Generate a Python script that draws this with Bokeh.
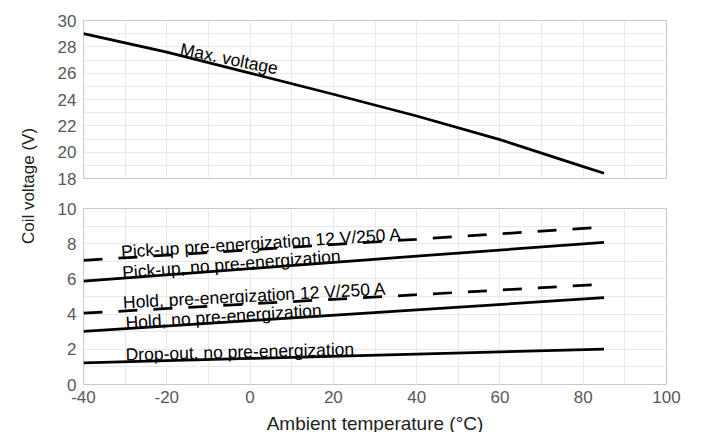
import numpy as np
from bokeh.plotting import figure
from bokeh.models import Range1d, SingleIntervalTicker, FixedTicker, Grid, ColumnDataSource
from bokeh.layouts import row, column
from bokeh.embed import file_html
from bokeh.resources import INLINE
from bokeh.core.properties import value

# ---------------- data ----------------
x_ticks = [-40, -20, 0, 20, 40, 60, 80, 100]
upper_y_ticks = [18, 20, 22, 24, 26, 28, 30]
lower_y_ticks = [0, 2, 4, 6, 8, 10]

temps_max = [-40, -20, 0, 20, 40, 60, 80, 85]
max_voltage = [29.0, 27.6, 26.0, 24.4, 22.75, 20.95, 18.9, 18.4]

temps_low = [-40, 0, 40, 85]
pickup_pre = [7.05, 7.65, 8.25, 8.95]
pickup_no = [5.88, 6.58, 7.29, 8.08]
hold_pre = [4.05, 4.58, 5.10, 5.70]
hold_no = [3.02, 3.63, 4.24, 4.93]
dropout = [1.23, 1.48, 1.73, 2.01]

upper_label = ["Max. voltage"]
upper_label_x = [-16.7]
upper_label_y = [27.85]
upper_label_angle = [-11.5]

lower_labels = ["Pick-up pre-energization 12 V/250 A", "Pick-up, no pre-energization",
                "Hold, pre-energization 12 V/250 A", "Hold, no pre-energization",
                "Drop-out, no pre-energization"]
lower_label_x = [-30.95, -30.7, -30.5, -29.9, -29.9]
lower_label_y = [7.54, 6.36, 4.66, 3.51, 1.7]
lower_label_angle = [3.6, 4.4, 3.0, 3.7, 1.4]

x_title = "Ambient temperature (°C)"
y_title = "Coil voltage (V)"

FONT = "Liberation Sans"
TICK_COLOR = "#595959"
GRID_COLOR = "#e9e9e9"
FRAME_COLOR = "#c8c8c8"
LABEL_SIZE = "17.5px"

xr = Range1d(-40, 100)


def make_fig(yr, yticks, frame_h, mb_top, mb_bottom, with_xaxis):
    p = figure(frame_width=583, frame_height=frame_h, x_range=xr, y_range=Range1d(*yr),
               output_backend="svg", toolbar_location=None,
               min_border_left=35, min_border_right=18, min_border_top=mb_top,
               min_border_bottom=mb_bottom,
               x_axis_location="below" if with_xaxis else None)
    for g in p.grid:
        g.visible = False
    p.add_layout(Grid(dimension=0, ticker=SingleIntervalTicker(interval=10),
                      grid_line_color=GRID_COLOR, grid_line_width=1), "center")
    p.add_layout(Grid(dimension=1, ticker=SingleIntervalTicker(interval=1),
                      grid_line_color=GRID_COLOR, grid_line_width=1), "center")
    p.outline_line_color = FRAME_COLOR
    p.outline_line_width = 1
    p.background_fill_color = "white"
    p.border_fill_color = "white"

    ya = p.yaxis[0]
    ya.ticker = FixedTicker(ticks=yticks)
    ya.major_label_overrides = {t: str(t) for t in yticks}
    ya.axis_line_color = None
    ya.major_tick_line_color = None
    ya.minor_tick_line_color = None
    ya.major_label_standoff = 1
    ya.major_label_text_font = FONT
    ya.major_label_text_font_size = "17px"
    ya.major_label_text_color = TICK_COLOR

    if with_xaxis:
        xa = p.xaxis[0]
        xa.ticker = FixedTicker(ticks=x_ticks)
        xa.major_label_overrides = {t: str(t) for t in x_ticks}
        xa.axis_line_color = None
        xa.major_tick_line_color = None
        xa.minor_tick_line_color = None
        xa.major_label_standoff = 0
        xa.major_label_text_font = FONT
        xa.major_label_text_font_size = "17px"
        xa.major_label_text_color = TICK_COLOR
        xa.axis_label = x_title
        xa.axis_label_standoff = 7
        xa.axis_label_text_font = FONT
        xa.axis_label_text_font_size = "19px"
        xa.axis_label_text_font_style = "normal"
        xa.axis_label_text_color = "#222222"
    return p


# ---------------- upper panel ----------------
pu = make_fig((18, 30), upper_y_ticks, 158, 20, 15, False)
pu.line(temps_max, max_voltage, line_color="black", line_width=2.75)
src_u = ColumnDataSource(dict(x=upper_label_x, y=upper_label_y, t=upper_label,
                              a=[np.deg2rad(v) for v in upper_label_angle]))
pu.text(x="x", y="y", text="t", angle="a", source=src_u, text_font=value(FONT),
        text_font_size=LABEL_SIZE, text_color="black", text_align="left",
        text_baseline="alphabetic")

# ---------------- lower panel ----------------
pl = make_fig((0, 10), lower_y_ticks, 176, 15, 0, True)
for vals, dash in [(pickup_pre, "19 16"), (pickup_no, "solid"), (hold_pre, "19 16"),
                   (hold_no, "solid"), (dropout, "solid")]:
    pl.line(temps_low, vals, line_color="black", line_width=2.75, line_dash=dash)
src_l = ColumnDataSource(dict(x=lower_label_x, y=lower_label_y, t=lower_labels,
                              a=[np.deg2rad(v) for v in lower_label_angle]))
pl.text(x="x", y="y", text="t", angle="a", source=src_l, text_font=value(FONT),
        text_font_size=LABEL_SIZE, text_color="black", text_align="left",
        text_baseline="alphabetic")

# ---------------- shared y title ----------------
H = 420
pt = figure(width=48, height=H, x_range=Range1d(0, 48), y_range=Range1d(0, H),
            output_backend="svg", toolbar_location=None, x_axis_location=None,
            y_axis_location=None, min_border=0, outline_line_color=None)
for g in pt.grid:
    g.visible = False
pt.text(x=[28], y=[H - 185.5], text=[y_title], angle=np.pi / 2, text_align="center",
        text_baseline="middle", text_font=value(FONT), text_font_size="17px",
        text_color="#222222")

layout = row(pt, column(pu, pl))
open("out.html", "w").write(file_html(layout, INLINE))
